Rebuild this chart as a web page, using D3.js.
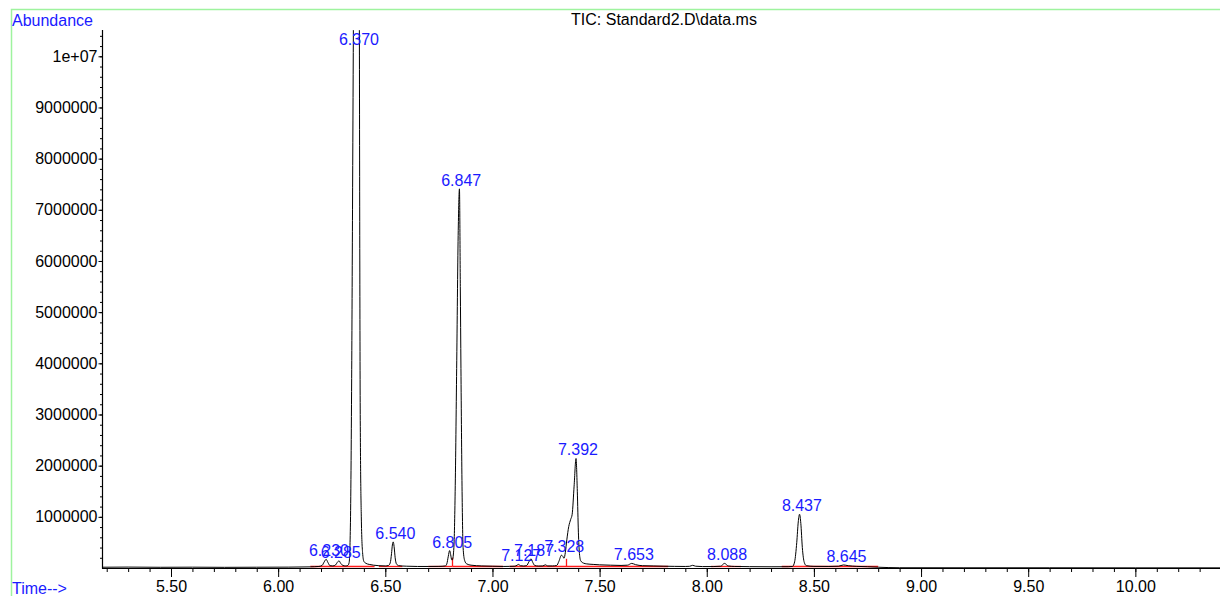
<!DOCTYPE html>
<html>
<head>
<meta charset="utf-8">
<script src="https://cdn.jsdelivr.net/npm/d3@7"></script>
<style>
  html, body { margin: 0; padding: 0; background: #fff; }
  svg { display: block; }
  text { font-family: "Liberation Sans", Arial, sans-serif; }
</style>
</head>
<body>
<svg id="chart" width="1220" height="596"></svg>
<script>
// ---- data ----
const traceTime = [
  5.178, 5.30, 5.45, 5.60, 5.75, 5.90, 6.05, 6.15, 6.19, 6.205, 6.215, 6.224, 6.232, 6.242,
  6.255, 6.268, 6.276, 6.284, 6.292, 6.302, 6.315, 6.325, 6.331, 6.337, 6.343, 6.347, 6.351,
  6.358, 6.366, 6.373, 6.379, 6.381, 6.383, 6.388, 6.394, 6.400, 6.410, 6.425, 6.445, 6.470,
  6.500, 6.515, 6.523, 6.529, 6.533, 6.537, 6.541, 6.546, 6.552, 6.563, 6.60, 6.65, 6.70,
  6.75, 6.780, 6.787, 6.794, 6.800, 6.805, 6.810, 6.813, 6.820, 6.826, 6.833, 6.840, 6.846,
  6.850, 6.853, 6.858, 6.863, 6.870, 6.880, 6.900, 6.95, 7.00, 7.05, 7.08, 7.105, 7.115,
  7.122, 7.130, 7.145, 7.160, 7.170, 7.180, 7.188, 7.197, 7.215, 7.235, 7.247, 7.258, 7.280,
  7.300, 7.310, 7.322, 7.328, 7.334, 7.340, 7.347, 7.356, 7.365, 7.372, 7.381, 7.390, 7.396,
  7.401, 7.406, 7.412, 7.425, 7.44, 7.47, 7.50, 7.55, 7.60, 7.630, 7.650, 7.668, 7.70, 7.75,
  7.80, 7.85, 7.90, 7.920, 7.934, 7.948, 7.98, 8.03, 8.065, 8.083, 8.100, 8.13, 8.20, 8.30,
  8.38, 8.400, 8.410, 8.420, 8.427, 8.433, 8.439, 8.446, 8.455, 8.465, 8.50, 8.57, 8.615,
  8.638, 8.66, 8.70, 8.75, 8.80, 8.85, 8.90, 9.20, 9.60, 10.00, 10.395
];
const traceAbundance = [
  15000, 18000, 14000, 16000, 13000, 15000, 17000, 22000, 30000, 50000, 120000, 170000, 110000, 45000,
  40000, 60000, 110000, 140000, 90000, 50000, 40000, 50000, 100000, 800000, 3700000, 7000000, 10500000,
  16000000, 18000000, 16000000, 10500000, 6000000, 3000000, 1000000, 300000, 130000, 90000, 70000, 55000, 45000,
  40000, 50000, 100000, 280000, 450000, 510000, 420000, 200000, 80000, 45000, 35000, 30000, 30000,
  32000, 40000, 80000, 230000, 340000, 260000, 160000, 160000, 400000, 1500000, 3900000, 6500000, 7410000,
  5500000, 3900000, 1600000, 400000, 150000, 80000, 55000, 40000, 35000, 30000, 32000, 35000, 55000,
  70000, 45000, 38000, 50000, 120000, 180000, 110000, 50000, 38000, 40000, 62000, 40000, 40000,
  50000, 130000, 250000, 230000, 190000, 300000, 550000, 810000, 950000, 1050000, 1600000, 2140000, 1500000,
  700000, 280000, 140000, 95000, 80000, 70000, 62000, 55000, 50000, 55000, 90000, 65000, 45000, 40000,
  35000, 32000, 30000, 33000, 52000, 35000, 28000, 28000, 35000, 90000, 40000, 30000, 26000, 24000,
  25000, 30000, 120000, 500000, 900000, 1050000, 870000, 400000, 110000, 45000, 32000, 30000, 35000,
  60000, 45000, 32000, 25000, 15000, 8000, 5000, 4000, 4000, 3000, 3000
];

const peakLabels = ["6.230", "6.285", "6.370", "6.540", "6.805", "6.847", "7.127", "7.187",
                    "7.328", "7.392", "7.653", "8.088", "8.437", "8.645"];
const peakTimes = [6.230, 6.285, 6.370, 6.540, 6.805, 6.847, 7.127, 7.187,
                   7.328, 7.392, 7.653, 8.088, 8.437, 8.645];
const peakApex = [170000, 140000, 18000000, 510000, 340000, 7410000, 70000, 180000,
                  250000, 2140000, 90000, 90000, 1050000, 60000];

const intStart = [6.15, 6.47, 6.70, 6.813, 7.08, 8.02, 8.35];
const intEnd   = [6.45, 6.58, 6.813, 7.05, 7.82, 8.16, 8.80];
const intLevel = 19000;
const dropTimes = [6.813, 7.341];
const dropHeights = [200000, 180000];

const xMajorTicks = [5.5, 6.0, 6.5, 7.0, 7.5, 8.0, 8.5, 9.0, 9.5, 10.0];
const yMajorTicks = [1000000, 2000000, 3000000, 4000000, 5000000, 6000000, 7000000, 8000000, 9000000, 10000000];

const titleText = "TIC: Standard2.D\\data.ms";
const yAxisTitle = "Abundance";
const xAxisTitle = "Time-->";

// ---- drawing ----
const svg = d3.select("#chart");
const W = 1220, H = 596;
const pLeft = 102, pRight = 1220, pTop = 30, pBottom = 568;
const blue = "#1a1aff";
const red = "#ff1a1a";

const x = d3.scaleLinear().domain([5.178, 10.395]).range([pLeft, pRight]);
const y = d3.scaleLinear().domain([0, 10514000]).range([pBottom, pTop]);

// green frame
svg.append("rect").attr("x", 11.5).attr("y", 9.5).attr("width", W).attr("height", H)
  .attr("fill", "none").attr("stroke", "#9ef39e").attr("stroke-width", 1.5);

// axes
const xMinor = d3.range(5.2, 10.35, 0.1).map(v => +v.toFixed(1));
svg.append("g").attr("transform", `translate(0,${pBottom})`)
  .call(d3.axisBottom(x).tickValues(xMinor).tickSize(4).tickFormat(""))
  .call(g => g.select(".domain").remove());
svg.append("g").attr("transform", `translate(0,${pBottom})`)
  .call(d3.axisBottom(x).tickValues(xMajorTicks).tickSize(9).tickPadding(3.5).tickFormat(d3.format(".2f")))
  .call(g => g.select(".domain").remove())
  .call(g => g.selectAll("text").attr("font-size", 16).attr("fill", "#000").attr("font-family", "Liberation Sans, Arial, sans-serif"));

const yMinor = d3.range(200000, 10500000, 200000);
svg.append("g").attr("transform", `translate(${pLeft},0)`)
  .call(d3.axisLeft(y).tickValues(yMinor).tickSize(2).tickFormat(""))
  .call(g => g.select(".domain").remove());
svg.append("g").attr("transform", `translate(${pLeft},0)`)
  .call(d3.axisLeft(y).tickValues(yMajorTicks).tickSize(3.5).tickPadding(1)
    .tickFormat(d => d >= 10000000 ? "1e+07" : d3.format("d")(d)))
  .call(g => g.select(".domain").remove())
  .call(g => g.selectAll("text").attr("font-size", 16).attr("fill", "#000").attr("font-family", "Liberation Sans, Arial, sans-serif"));

svg.append("line").attr("x1", pLeft + 0.5).attr("x2", pLeft + 0.5).attr("y1", pTop).attr("y2", pBottom + 0.5)
  .attr("stroke", "#000").attr("stroke-width", 1.2);
svg.append("line").attr("x1", pLeft).attr("x2", pRight).attr("y1", pBottom + 0.5).attr("y2", pBottom + 0.5)
  .attr("stroke", "#000").attr("stroke-width", 1.2);

// clip
svg.append("clipPath").attr("id", "plotclip").append("rect")
  .attr("x", pLeft).attr("y", pTop).attr("width", pRight - pLeft).attr("height", pBottom - pTop + 2);

// integration baselines (red)
const ints = intStart.map((s, i) => [s, intEnd[i]]);
const yInt = Math.round(y(intLevel)) - 0.5;
svg.append("g").selectAll("line").data(ints).join("line")
  .attr("x1", d => x(d[0])).attr("x2", d => x(d[1]))
  .attr("y1", yInt).attr("y2", yInt)
  .attr("stroke", red).attr("stroke-width", 1.3);
svg.append("g").selectAll("line").data(dropTimes.map((t, i) => [t, dropHeights[i]])).join("line")
  .attr("x1", d => Math.round(x(d[0])) + 0.5).attr("x2", d => Math.round(x(d[0])) + 0.5)
  .attr("y1", yInt).attr("y2", d => y(d[1]))
  .attr("stroke", red).attr("stroke-width", 1.3);

// trace
const pts = traceTime.map((t, i) => [t, traceAbundance[i]]);
svg.append("path").datum(pts)
  .attr("clip-path", "url(#plotclip)")
  .attr("fill", "none").attr("stroke", "#000").attr("stroke-width", 1)
  .attr("d", d3.line().x(d => x(d[0])).y(d => y(d[1])).curve(d3.curveMonotoneX));

// peak labels
svg.append("g").selectAll("text").data(peakLabels).join("text")
  .attr("x", (d, i) => x(peakTimes[i]) + 1.5)
  .attr("y", (d, i) => Math.max(pTop + 15, y(peakApex[i]) - 3))
  .attr("text-anchor", "middle").attr("font-size", 16).attr("fill", blue)
  .text(d => d);

// titles
svg.append("text").attr("x", 664).attr("y", 25).attr("text-anchor", "middle")
  .attr("font-size", 16).attr("fill", "#000").text(titleText);
svg.append("text").attr("x", 12).attr("y", 25.5).attr("font-size", 16).attr("fill", blue).text(yAxisTitle);
svg.append("text").attr("x", 12).attr("y", 594).attr("font-size", 16).attr("fill", blue).text(xAxisTitle);
</script>
</body>
</html>
